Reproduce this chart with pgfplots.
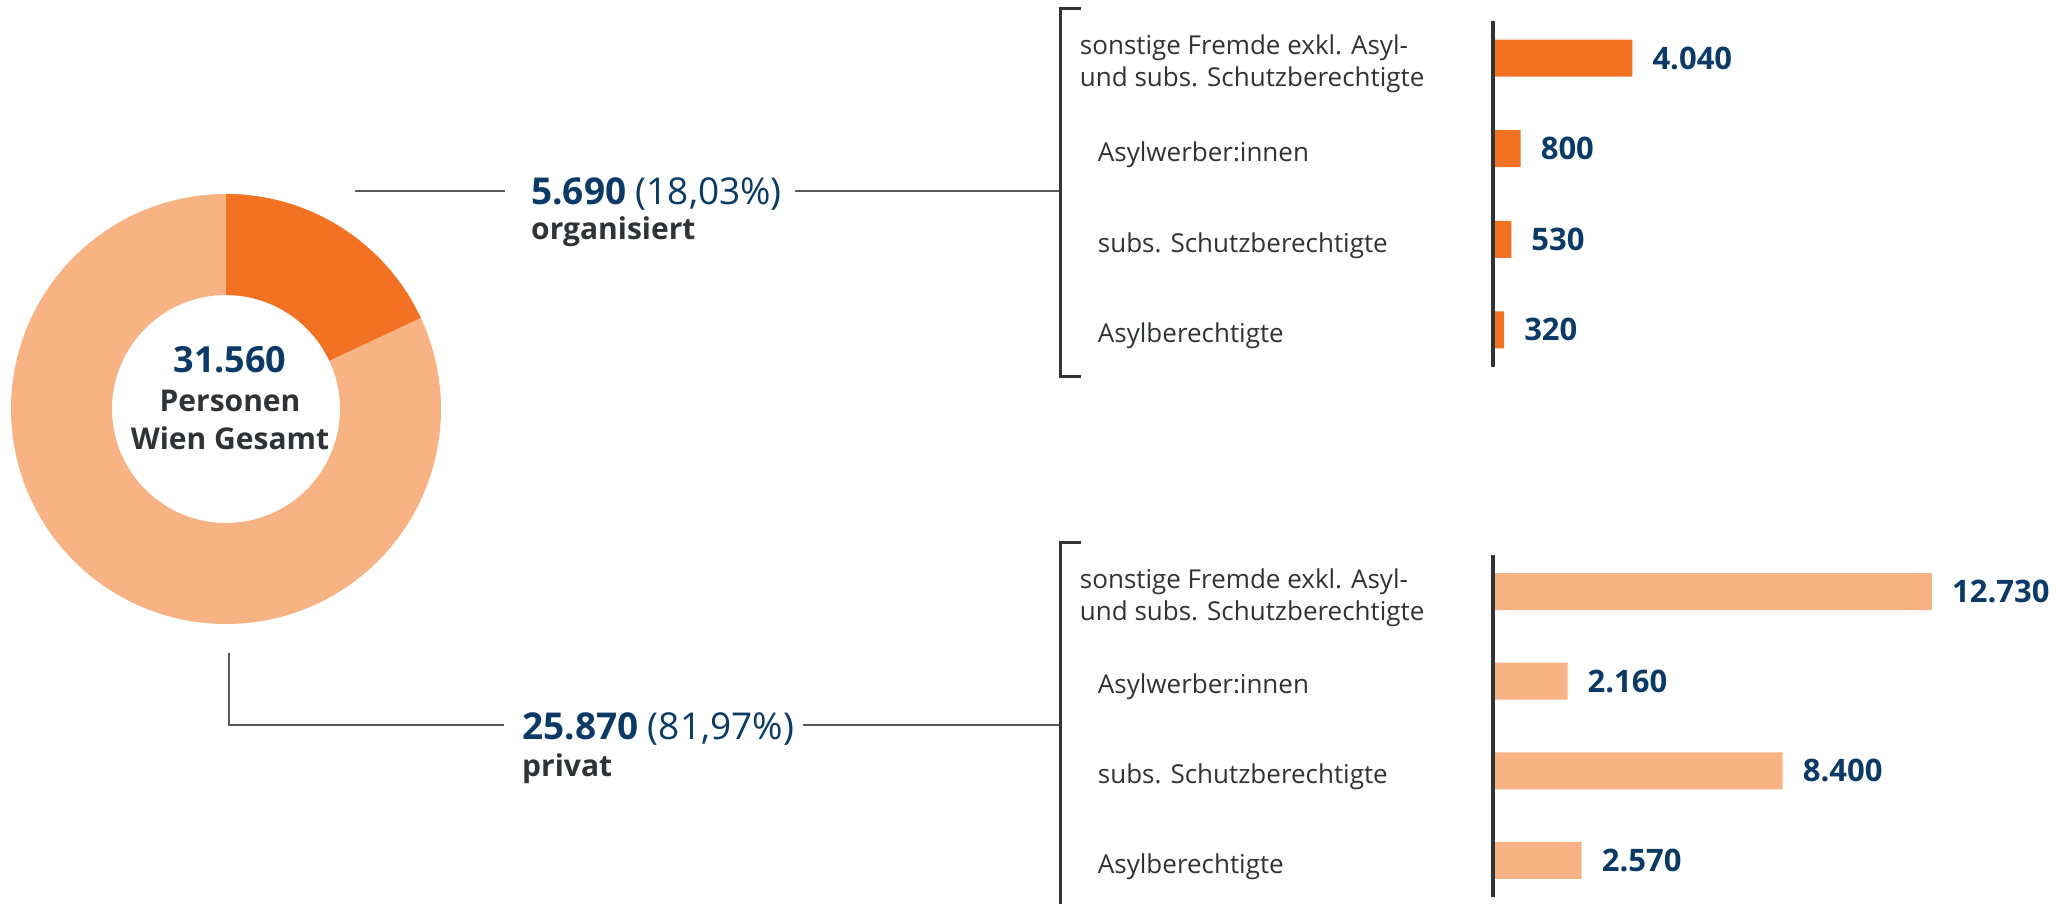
\documentclass[border=0pt]{standalone}
\usepackage{pgfplots}
\pgfplotsset{compat=1.18}
\usepackage{fontspec}
\setmainfont{Open Sans}
\definecolor{orgdark}{HTML}{F37123}
\definecolor{orglight}{HTML}{F8B385}
\definecolor{vblue}{HTML}{0B3A66}
\definecolor{tgray}{HTML}{2F3336}
\definecolor{lgray}{HTML}{555A5E}
\definecolor{agray}{HTML}{2F3436}
\newcommand{\twoline}{\hspace*{-18pt}\begin{minipage}[c]{380pt}\fontsize{26}{32}\selectfont\raggedright sonstige Fremde exkl. Asyl-\\und subs. Schutzberechtigte\end{minipage}}
\pgfplotsset{
  barax/.style={
    scale only axis, width=500pt, xmin=0, xmax=14500,
    ymin=-0.41, ymax=3.41,
    axis x line=none, axis y line*=left,
    axis line style={line width=4.5pt, color=agray},
    axis on top,
    ytick={0,1,2,3}, ytick style={draw=none},
    yticklabel style={anchor=west, inner sep=0pt, xshift=-391pt, yshift=-6pt,
      font=\fontsize{26}{32}\selectfont, text=tgray},
    yticklabels={Asylberechtigte, subs. Schutzberechtigte, Asylwerber:innen, {\twoline}},
    xbar, bar width=37pt, bar shift=0pt,
    point meta=explicit symbolic,
    nodes near coords,
    nodes near coords style={anchor=west, inner sep=0pt, xshift=20pt,
      font=\fontsize{31}{36}\selectfont\bfseries, text=vblue},
    clip=false,
  }
}
\begin{document}
\begin{tikzpicture}
\path[use as bounding box] (0pt,0pt) rectangle (2071pt,904pt);
% donut (values in thousands: 5.690 organisiert, 25.870 privat)
\begin{axis}[at={(11pt,280pt)}, anchor=south west, scale only axis, width=430pt, height=430pt,
  xmin=-215, xmax=215, ymin=-215, ymax=215, hide axis, clip=false]
  \pgfmathsetmacro{\endang}{90-360*5.690/(5.690+25.870)}
  \fill[orglight] (axis cs:0,215) arc[start angle=90, end angle=\endang-360, radius=215]
     -- (axis cs:{114*cos(\endang)},{114*sin(\endang)}) arc[start angle=\endang-360, end angle=90, radius=114] -- cycle;
  \fill[orgdark] (axis cs:0,215) arc[start angle=90, end angle=\endang, radius=215]
     -- (axis cs:{114*cos(\endang)},{114*sin(\endang)}) arc[start angle=\endang, end angle=90, radius=114] -- cycle;
\end{axis}
% upper bars
\begin{axis}[barax, at={(1493pt,537pt)}, anchor=south west, height=346pt]
  \addplot[fill=orgdark, draw=none] coordinates {(320,0) [320] (530,1) [530] (800,2) [800] (4040,3) [4.040]};
\end{axis}
% lower bars
\begin{axis}[barax, at={(1493pt,7pt)}, anchor=south west, height=342pt]
  \addplot[fill=orglight, draw=none] coordinates {(2570,0) [2.570] (8400,1) [8.400] (2160,2) [2.160] (12730,3) [12.730]};
\end{axis}
\begin{scope}[x=1pt,y=1pt]
% center text
\node[anchor=base, inner sep=0pt, text=vblue, font=\fontsize{36}{40}\selectfont\bfseries] at (230,531) {31.560};
\node[anchor=base, inner sep=0pt, text=tgray, font=\fontsize{30}{34}\selectfont\bfseries] at (230,492) {Personen};
\node[anchor=base, inner sep=0pt, text=tgray, font=\fontsize{30}{34}\selectfont\bfseries] at (230,454) {Wien Gesamt};
% upper labels
\draw[lgray, line width=2pt] (355,713) -- (505,713);
\draw[lgray, line width=2pt] (795,713) -- (1060,713);
\draw[agray, line width=3pt] (1081,895) -- (1060,895) -- (1060,527) -- (1081,527);
\node[anchor=base west, inner sep=0pt, text=vblue, font=\fontsize{37}{40}\selectfont] at (531,699) {\textbf{5.690} (18,03\%)};
\node[anchor=base west, inner sep=0pt, text=tgray, font=\fontsize{30}{34}\selectfont\bfseries] at (531,664) {organisiert};
% lower labels
\draw[lgray, line width=2pt] (229,251) -- (229,179) -- (504,179);
\draw[lgray, line width=2pt] (803,179) -- (1060,179);
\draw[agray, line width=3pt] (1081,361) -- (1060,361) -- (1060,-5);
\node[anchor=base west, inner sep=0pt, text=vblue, font=\fontsize{37}{40}\selectfont] at (522,164) {\textbf{25.870} (81,97\%)};
\node[anchor=base west, inner sep=0pt, text=tgray, font=\fontsize{30}{34}\selectfont\bfseries] at (522,127) {privat};
\end{scope}
\end{tikzpicture}
\end{document}
